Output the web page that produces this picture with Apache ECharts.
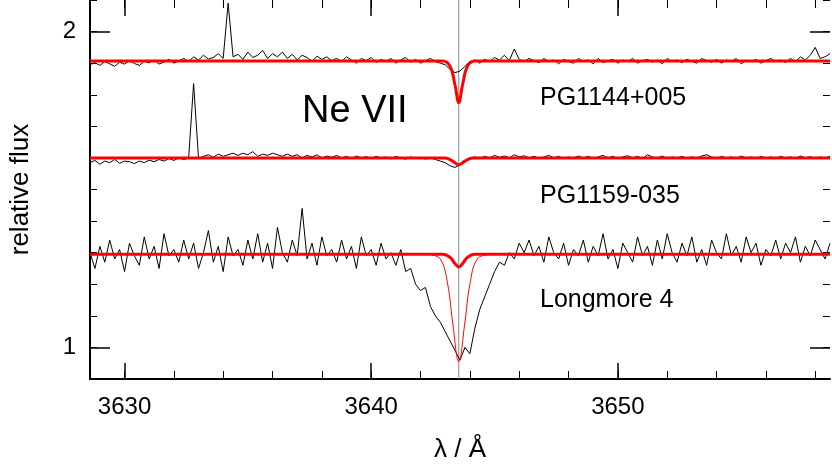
<!DOCTYPE html>
<html>
<head>
<meta charset="utf-8">
<script src="https://cdn.jsdelivr.net/npm/echarts@6/dist/echarts.min.js"></script>
<style>html,body{margin:0;padding:0;background:#fff}#chart{width:832px;height:468px}</style>
</head>
<body>
<div id="chart"></div>
<script>
// wavelength grid of the observed spectra
var wlStart = 3628.6;
var wlStep = 0.2;

var pg1144 = [
1.895,1.902,1.893,1.905,1.898,1.89,1.903,1.897,1.908,1.899,
1.893,1.906,1.901,1.91,1.897,1.904,1.912,1.9,1.907,1.915,
1.905,1.92,1.91,1.925,1.913,1.918,1.93,1.915,2.09,1.92,
1.928,1.912,1.935,1.918,1.925,1.94,1.915,1.93,1.92,1.935,
1.915,1.928,1.91,1.925,1.918,1.905,1.922,1.912,1.92,1.908,
1.915,1.905,1.92,1.91,1.9,1.915,1.908,1.918,1.902,1.912,
1.905,1.915,1.9,1.91,1.918,1.903,1.912,1.9,1.908,1.915,
1.905,1.9,1.895,1.88,1.87,1.875,1.89,1.905,1.91,1.9,
1.912,1.905,1.918,1.91,1.925,1.908,1.945,1.912,1.905,1.915,
1.908,1.902,1.915,1.905,1.91,1.898,1.912,1.905,1.9,1.915,
1.905,1.91,1.898,1.915,1.902,1.908,1.912,1.9,1.91,1.905,
1.915,1.9,1.908,1.912,1.903,1.91,1.898,1.915,1.905,1.91,
1.902,1.912,1.906,1.9,1.915,1.908,1.903,1.912,1.9,1.91,
1.905,1.915,1.898,1.91,1.905,1.912,1.9,1.908,1.915,1.905,
1.91,1.902,1.915,1.905,1.92,1.91,1.925,1.95,1.915,1.92,1.93];

var pg1159 = [
1.585,1.592,1.58,1.59,1.585,1.595,1.583,1.59,1.588,1.582,
1.59,1.585,1.593,1.588,1.595,1.59,1.598,1.592,1.6,1.595,
1.6,1.835,1.598,1.605,1.61,1.602,1.612,1.605,1.61,1.615,
1.608,1.615,1.61,1.62,1.605,1.612,1.608,1.615,1.61,1.605,
1.612,1.605,1.61,1.6,1.608,1.603,1.61,1.6,1.606,1.602,
1.608,1.6,1.605,1.598,1.606,1.6,1.604,1.598,1.605,1.6,
1.603,1.597,1.605,1.6,1.596,1.603,1.598,1.602,1.596,1.6,
1.595,1.59,1.585,1.575,1.57,1.578,1.588,1.598,1.603,1.598,
1.605,1.6,1.608,1.602,1.606,1.6,1.61,1.603,1.607,1.6,
1.605,1.598,1.603,1.608,1.6,1.605,1.598,1.603,1.6,1.606,
1.6,1.605,1.598,1.603,1.608,1.6,1.605,1.598,1.603,1.607,
1.6,1.605,1.598,1.61,1.603,1.6,1.606,1.598,1.603,1.6,
1.605,1.598,1.603,1.6,1.606,1.61,1.603,1.598,1.605,1.6,
1.603,1.598,1.606,1.6,1.603,1.598,1.605,1.6,1.603,1.598,
1.605,1.6,1.603,1.598,1.606,1.6,1.604,1.598,1.603,1.6,1.605];

var longmore4 = [
1.3,1.25,1.32,1.27,1.34,1.28,1.31,1.24,1.33,1.29,
1.26,1.35,1.28,1.32,1.25,1.36,1.29,1.31,1.27,1.34,
1.28,1.33,1.25,1.3,1.37,1.27,1.32,1.24,1.35,1.29,
1.31,1.26,1.34,1.28,1.36,1.27,1.33,1.25,1.38,1.3,
1.27,1.34,1.29,1.44,1.28,1.33,1.26,1.35,1.29,1.31,
1.27,1.34,1.28,1.32,1.25,1.35,1.29,1.31,1.26,1.33,
1.28,1.3,1.26,1.31,1.24,1.25,1.2,1.18,1.19,1.13,
1.1,1.08,1.05,1.02,0.99,0.96,1.0,0.98,1.06,1.12,
1.16,1.2,1.24,1.27,1.26,1.3,1.28,1.33,1.3,1.34,
1.29,1.32,1.27,1.35,1.3,1.28,1.33,1.26,1.31,1.29,
1.34,1.27,1.32,1.29,1.36,1.28,1.31,1.25,1.33,1.3,
1.27,1.35,1.29,1.32,1.26,1.34,1.28,1.36,1.3,1.27,
1.33,1.29,1.35,1.27,1.31,1.26,1.34,1.3,1.28,1.36,
1.29,1.32,1.27,1.35,1.3,1.33,1.26,1.31,1.29,1.34,
1.28,1.33,1.3,1.35,1.27,1.32,1.29,1.34,1.31,1.28,1.33];

// model profiles [wavelength, flux]
var model1144 = [[3628.6,1.907],[3642.9,1.907],[3643.2,1.89],[3643.4,1.83],[3643.55,1.775],[3643.7,1.83],[3643.9,1.89],[3644.2,1.907],[3658.6,1.907]];
var model1159 = [[3628.6,1.6],[3643.0,1.6],[3643.3,1.59],[3643.55,1.578],[3643.8,1.59],[3644.1,1.6],[3658.6,1.6]];
var modelL4 = [[3628.6,1.295],[3642.9,1.295],[3643.2,1.285],[3643.4,1.265],[3643.55,1.255],[3643.7,1.265],[3643.9,1.285],[3644.2,1.295],[3658.6,1.295]];
var modelL4thin = [[3642.3,1.295],[3642.8,1.28],[3643.1,1.2],[3643.3,1.08],[3643.55,0.955],[3643.8,1.08],[3644.0,1.2],[3644.3,1.28],[3644.8,1.295]];

var lineCentre = 3643.55;
var xMajor = [3630, 3640, 3650];
var xMinor = [3630,3632,3634,3636,3638,3640,3642,3644,3646,3648,3650,3652,3654,3656,3658];
var yMajor = [1, 2];

function toPairs(arr){
    var out = [];
    for (var i = 0; i < arr.length; ++i) {
        out.push([+(wlStart + i * wlStep).toFixed(2), arr[i]]);
    }
    return out;
}

var mychart = echarts.init(document.querySelector("#chart"));
var font = 'Liberation Sans, Arial, sans-serif';
var xBase = {type:'value', min:3628.6, max:3658.6, splitLine:{show:false}, axisLine:{show:false}};
var yBase = {type:'value', min:0.9, max:2.1, splitLine:{show:false}, axisLine:{show:false}};

option = {
    animation: false,
    grid: {left: 80, right: 2, top: 0, bottom: 84},
    xAxis: [
        Object.assign({}, xBase, {
            position:'bottom',
            axisLine:{show:true, onZero:false, lineStyle:{color:'#000', width:2}},
            axisTick:{inside:true, length:16, customValues:xMajor, lineStyle:{color:'#000', width:1.5}},
            axisLabel:{customValues:xMajor, formatter:function(v){return String(v);}, fontSize:24, color:'#000', fontFamily:font, margin:16},
            name:'λ / Å', nameLocation:'middle', nameGap:58,
            nameTextStyle:{fontSize:26, color:'#000', fontFamily:font}
        }),
        Object.assign({}, xBase, {position:'bottom', axisTick:{inside:true, length:8, customValues:xMinor, lineStyle:{color:'#000'}}, axisLabel:{show:false}}),
        Object.assign({}, xBase, {position:'top', axisTick:{inside:true, length:16, customValues:xMajor, lineStyle:{color:'#000', width:1.5}}, axisLabel:{show:false}}),
        Object.assign({}, xBase, {position:'top', axisTick:{inside:true, length:8, customValues:xMinor, lineStyle:{color:'#000'}}, axisLabel:{show:false}})
    ],
    yAxis: [
        Object.assign({}, yBase, {
            position:'left', interval:0.1,
            axisLine:{show:true, onZero:false, lineStyle:{color:'#000', width:2}},
            axisTick:{inside:true, length:7, lineStyle:{color:'#000'}},
            axisLabel:{customValues:yMajor, fontSize:24, color:'#000', fontFamily:font, margin:14},
            name:'relative flux', nameLocation:'middle', nameGap:56,
            nameTextStyle:{fontSize:26, color:'#000', fontFamily:font}
        }),
        Object.assign({}, yBase, {position:'left', axisTick:{inside:true, length:20, customValues:yMajor, lineStyle:{color:'#000', width:1.5}}, axisLabel:{show:false}}),
        Object.assign({}, yBase, {position:'right', interval:0.1, axisTick:{inside:true, length:7, lineStyle:{color:'#000'}}, axisLabel:{show:false}}),
        Object.assign({}, yBase, {position:'right', axisTick:{inside:true, length:20, customValues:yMajor, lineStyle:{color:'#000', width:1.5}}, axisLabel:{show:false}})
    ],
    graphic: [
        {type:'text', left:302, top:93, style:{text:'Ne VII', fontSize:38, fill:'#000', fontFamily:font}},
        {type:'text', left:540, top:86, style:{text:'PG1144+005', fontSize:25, fill:'#000', fontFamily:font}},
        {type:'text', left:540, top:184, style:{text:'PG1159-035', fontSize:25, fill:'#000', fontFamily:font}},
        {type:'text', left:540, top:288, style:{text:'Longmore 4', fontSize:25, fill:'#000', fontFamily:font}}
    ],
    series: [
        {type:'line', data:[[lineCentre,0.9],[lineCentre,2.1]], symbol:'none', lineStyle:{color:'#888', width:1}, z:1},
        {type:'line', data:toPairs(pg1144), symbol:'none', lineStyle:{color:'#000', width:1}},
        {type:'line', data:toPairs(pg1159), symbol:'none', lineStyle:{color:'#000', width:1}},
        {type:'line', data:toPairs(longmore4), symbol:'none', lineStyle:{color:'#000', width:1}},
        {type:'line', data:modelL4thin, symbol:'none', smooth:0.4, lineStyle:{color:'#ff0000', width:1}, z:3},
        {type:'line', data:model1144, symbol:'none', smooth:0.4, lineStyle:{color:'#ff0000', width:3}, z:4},
        {type:'line', data:model1159, symbol:'none', smooth:0.4, lineStyle:{color:'#ff0000', width:3}, z:4},
        {type:'line', data:modelL4, symbol:'none', smooth:0.4, lineStyle:{color:'#ff0000', width:3}, z:4}
    ]
};

mychart.setOption(option);
</script>
</body>
</html>
